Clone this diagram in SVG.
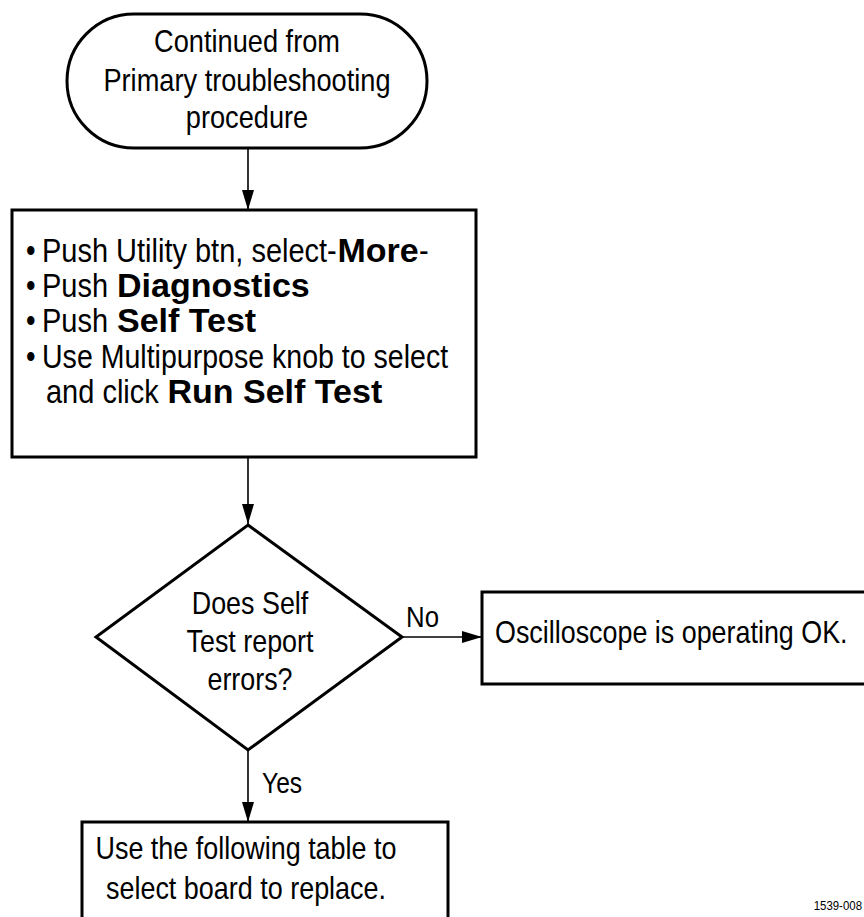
<svg xmlns="http://www.w3.org/2000/svg" width="864" height="917" viewBox="0 0 864 917">
<style>
  .shape { fill: #fff; stroke: #000; stroke-width: 3; }
  .conn { fill: none; stroke: #000; stroke-width: 1.6; }
  text { font-family: "Liberation Sans", Arial, sans-serif; fill: #000; }
  .t32 { font-size: 32px; }
  .t34 { font-size: 34px; }
  .t30 { font-size: 30px; }
  .b { font-weight: bold; }
  .mid { text-anchor: middle; }
  .id { font-size: 13px; text-anchor: end; }
</style>
<defs>
  <marker id="arr" markerUnits="userSpaceOnUse" markerWidth="22" markerHeight="14" refX="20" refY="6" orient="auto">
    <path d="M0,0 L20,6 L0,12 z" fill="#000"/>
  </marker>
</defs>
<rect width="864" height="917" fill="#fff"/>

<g id="connectors">
  <line class="conn" x1="248" y1="148" x2="248" y2="210" marker-end="url(#arr)"/>
  <line class="conn" x1="248" y1="457" x2="248" y2="524" marker-end="url(#arr)"/>
  <line class="conn" x1="402" y1="637" x2="482" y2="637" marker-end="url(#arr)"/>
  <line class="conn" x1="248" y1="750" x2="248" y2="822" marker-end="url(#arr)"/>
  <text class="t30" transform="translate(406,627) scale(0.86,1)">No</text>
  <text class="t30" transform="translate(262,793) scale(0.82,1)">Yes</text>
</g>

<g id="start">
  <rect class="shape" x="67" y="14" width="360" height="134" rx="67" ry="67"/>
  <text class="t32 mid" transform="translate(247,52) scale(0.85,1)">Continued from</text>
  <text class="t32 mid" transform="translate(247,91) scale(0.85,1)">Primary troubleshooting</text>
  <text class="t32 mid" transform="translate(247,128) scale(0.85,1)">procedure</text>
</g>

<g id="steps">
  <rect class="shape" x="12" y="210" width="464" height="247"/>
  <text class="t34" transform="translate(26,262) scale(0.8,1)">•</text>
  <text class="t34" transform="translate(42,262) scale(0.853,1)">Push Utility btn, select-</text>
  <text class="t34 b" transform="translate(337.5,262)">More</text>
  <text class="t34" transform="translate(419,262) scale(0.853,1)">-</text>

  <text class="t34" transform="translate(26,297) scale(0.8,1)">•</text>
  <text class="t34" transform="translate(42,297) scale(0.853,1)">Push</text>
  <text class="t34 b" transform="translate(117,297)">Diagnostics</text>

  <text class="t34" transform="translate(26,332) scale(0.8,1)">•</text>
  <text class="t34" transform="translate(42,332) scale(0.853,1)">Push</text>
  <text class="t34 b" transform="translate(117,332)">Self Test</text>

  <text class="t34" transform="translate(26,368) scale(0.8,1)">•</text>
  <text class="t34" transform="translate(42,368) scale(0.84,1)">Use Multipurpose knob to select</text>

  <text class="t34" transform="translate(46,403) scale(0.853,1)">and click</text>
  <text class="t34 b" transform="translate(167.5,403)">Run Self Test</text>
</g>

<g id="decision">
  <polygon class="shape" points="248,525 402,637 248,750 96,637"/>
  <text class="t32 mid" transform="translate(250,614) scale(0.84,1)">Does Self</text>
  <text class="t32 mid" transform="translate(250,652) scale(0.84,1)">Test report</text>
  <text class="t32 mid" transform="translate(250,690) scale(0.84,1)">errors?</text>
</g>

<g id="ok">
  <rect class="shape" x="482" y="592" width="400" height="92"/>
  <text class="t32" transform="translate(495,643) scale(0.84,1)">Oscilloscope is operating OK.</text>
</g>

<g id="replace">
  <rect class="shape" x="82" y="822" width="366" height="120"/>
  <text class="t32 mid" transform="translate(246,859) scale(0.842,1)">Use the following table to</text>
  <text class="t32 mid" transform="translate(246,899) scale(0.842,1)">select board to replace.</text>
</g>

<text class="id" transform="translate(862,910) scale(0.88,1)">1539-008</text>
</svg>
